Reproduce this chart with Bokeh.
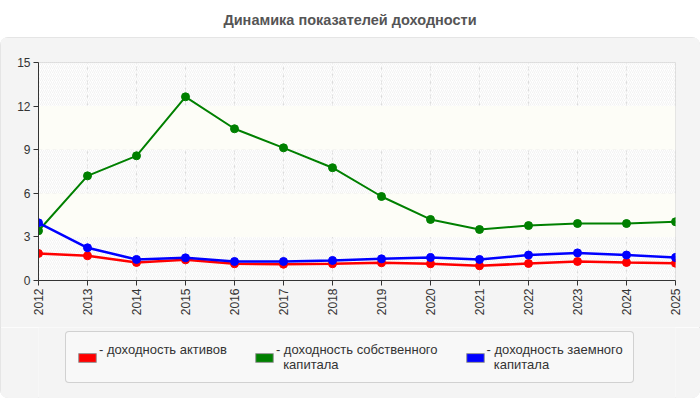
from bokeh.plotting import figure
from bokeh.models import (BoxAnnotation, Legend, LegendItem, Div, FixedTicker,
                          ColumnDataSource, Range1d)
from bokeh.layouts import column
from bokeh.embed import file_html
from bokeh.resources import INLINE
import math

title_text = "Динамика показателей доходности"
years = [2012, 2013, 2014, 2015, 2016, 2017, 2018, 2019, 2020, 2021, 2022, 2023, 2024, 2025]
assets = [1.86, 1.70, 1.24, 1.42, 1.15, 1.12, 1.15, 1.22, 1.15, 1.01, 1.17, 1.31, 1.24, 1.19]
equity = [3.42, 7.20, 8.58, 12.64, 10.44, 9.13, 7.76, 5.78, 4.20, 3.51, 3.78, 3.92, 3.92, 4.04]
borrowed = [3.97, 2.25, 1.45, 1.56, 1.31, 1.31, 1.38, 1.49, 1.58, 1.45, 1.75, 1.90, 1.75, 1.58]
y_ticks = [0, 3, 6, 9, 12, 15]
series_names = ["- доходность активов\n ",
                "- доходность собственного\n  капитала",
                "- доходность заемного\n  капитала"]
series_colors = ["#ff0000", "#008000", "#0000ff"]

FONT = "Liberation Sans"
PANEL = "#f4f4f4"
NAN = float("nan")

title = Div(text=title_text, width=700, height=37, margin=0,
            styles={"font-family": FONT, "font-size": "14.5px", "font-weight": "bold",
                    "color": "#555555", "text-align": "center", "width": "700px",
                    "line-height": "40px", "height": "37px", "overflow": "hidden"})

p = figure(width=700, height=290, output_backend="svg", toolbar_location=None,
           x_range=Range1d(years[0], years[-1]), y_range=Range1d(y_ticks[0], y_ticks[-1]),
           min_border_left=38, min_border_right=25, min_border_top=25, min_border_bottom=47,
           background_fill_color="#ffffff", border_fill_color=PANEL,
           outline_line_color="#dddddd", margin=0)

# alternating background bands
for i in range(len(y_ticks) - 1):
    if i % 2 == 0:
        p.add_layout(BoxAnnotation(bottom=y_ticks[i], top=y_ticks[i + 1], fill_color=None,
                                   line_color=None, hatch_pattern="/", hatch_color="#ececec",
                                   hatch_scale=4, hatch_weight=0.7, level="underlay"))
    else:
        p.add_layout(BoxAnnotation(bottom=y_ticks[i], top=y_ticks[i + 1], fill_color="#fdfdf7",
                                   fill_alpha=1, line_color=None, level="underlay"))

p.xaxis.ticker = FixedTicker(ticks=years)
p.yaxis.ticker = FixedTicker(ticks=y_ticks)
p.xaxis.major_label_orientation = math.pi / 2
for ax in (p.xaxis, p.yaxis):
    ax.axis_line_color = "#333333"
    ax.major_tick_line_color = "#333333"
    ax.major_tick_out = 5
    ax.major_tick_in = 0
    ax.minor_tick_line_color = None
    ax.major_label_text_font = FONT
    ax.major_label_text_font_size = "12px"
    ax.major_label_text_color = "#333333"
    ax.major_label_standoff = 3

p.xgrid.grid_line_color = "#dddddd"
p.ygrid.grid_line_color = "#dddddd"
p.xgrid.grid_line_dash = "4 3"
p.ygrid.grid_line_dash = "4 3"

src = ColumnDataSource(dict(x=years, a=assets, e=equity, b=borrowed))
widths = [2.5, 2, 2.5]
cols = ["a", "e", "b"]
for c, col, w in zip(cols, series_colors, widths):
    p.line("x", c, source=src, line_color=col, line_width=w)
    p.scatter("x", c, source=src, size=8, fill_color=col, line_color=col)

# legend in its own strip below the chart
lf = figure(width=700, height=71, output_backend="svg", toolbar_location=None,
            x_range=Range1d(0, 1), y_range=Range1d(0, 1), margin=0,
            min_border_left=0, min_border_right=0, min_border_top=0, min_border_bottom=0,
            background_fill_color=PANEL, border_fill_color=PANEL, outline_line_color=None)
lf.axis.visible = False
lf.grid.visible = False

items = []
for name, col in zip(series_names, series_colors):
    # swatch-only renderer: one undrawable (NaN) row so the legend has a colour to use
    r = lf.quad(left=[NAN], right=[NAN], top=[NAN], bottom=[NAN], fill_color=col,
                line_color="#999999", line_width=1)
    items.append(LegendItem(label=name, renderers=[r]))

legend = Legend(items=items, orientation="horizontal", location=(27, 15),
                glyph_width=22, glyph_height=11, label_standoff=1, spacing=26,
                padding=10, margin=0, label_text_font=FONT, label_text_font_size="13px",
                label_text_color="#333333", border_line_color="#aaaaaa",
                background_fill_color="#f8f8f8", background_fill_alpha=1,
                label_text_line_height=1.0)
if "border_radius" in Legend.properties():
    legend.border_radius = 4
lf.add_layout(legend, "center")

panel = column(p, lf, spacing=0, margin=0,
               styles={"border-radius": "8px", "overflow": "hidden",
                       "outline": "1px solid #e0e0e0", "outline-offset": "-1px"})
layout = column(title, panel, spacing=0, margin=0)
open("out.html", "w").write(file_html(layout, INLINE))
